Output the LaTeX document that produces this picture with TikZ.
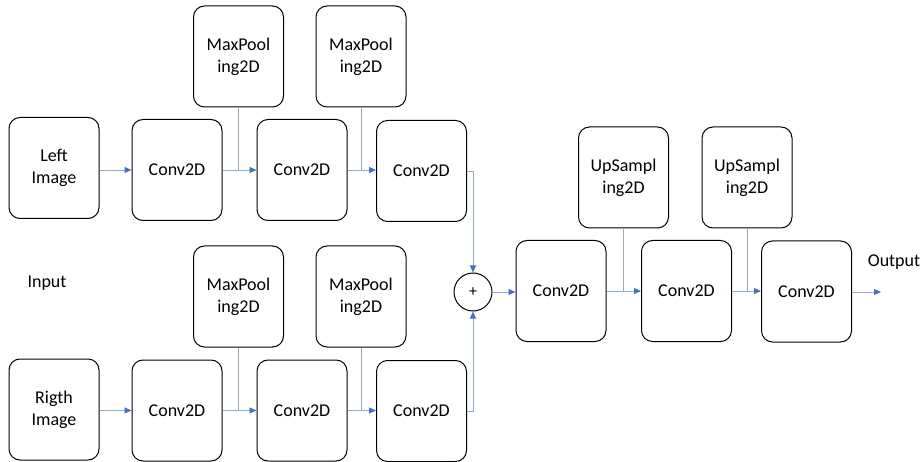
\documentclass[tikz,border=0pt]{standalone}
\usepackage{fontspec}
\setmainfont{Carlito}
\usetikzlibrary{arrows.meta}
\definecolor{linkblue}{RGB}{143,170,220}
\definecolor{tipblue}{RGB}{68,114,196}
\definecolor{dropgray}{RGB}{165,165,165}
\begin{document}
\begin{tikzpicture}[x=1pt,y=-1pt,
  layer/.style={draw=black,line width=1pt,rounded corners=11pt,
    minimum width=90pt,minimum height=101pt,inner sep=0pt,
    align=center,font=\fontsize{18}{22}\selectfont},
  sumnode/.style={draw=black,line width=1pt,circle,minimum size=38pt,inner sep=0pt,
    font=\fontsize{16}{18}\selectfont},
  label/.style={font=\fontsize{18}{22}\selectfont,inner sep=0pt},
  conn/.style={draw=linkblue,line width=0.9pt,
    -{Triangle[length=7pt,width=6pt,color=tipblue]}},
  drop/.style={draw=dropgray,line width=0.9pt}]
\useasboundingbox (0,0) rectangle (923,462);

% left branch
\node[layer] (limg) at (54,168) {Left\\Image};
\node[layer] (c1t) at (177,170) {Conv2D};
\node[layer] (c2t) at (302,170) {Conv2D};
\node[layer] (c3t) at (421.5,171) {Conv2D};
\node[layer] (mp1t) at (238.5,56.5) {MaxPool\\ing2D};
\node[layer] (mp2t) at (361,56.5) {MaxPool\\ing2D};

% right branch
\node[layer] (rimg) at (54,409.5) {Rigth\\Image};
\node[layer] (c1b) at (177,410.5) {Conv2D};
\node[layer] (c2b) at (302,410.5) {Conv2D};
\node[layer] (c3b) at (421.5,411) {Conv2D};
\node[layer] (mp1b) at (238.5,296.5) {MaxPool\\ing2D};
\node[layer] (mp2b) at (361,296.5) {MaxPool\\ing2D};

% merge and decoder
\node[sumnode] (sum) at (473,292) {+};
\node[layer] (ca) at (561,291) {Conv2D};
\node[layer] (cb) at (686.5,291) {Conv2D};
\node[layer] (cc) at (806.5,291.5) {Conv2D};
\node[layer] (up1) at (623.5,177.5) {UpSampl\\ing2D};
\node[layer] (up2) at (747,177.5) {UpSampl\\ing2D};

\node[label] (inlbl) at (47,283) {Input};
\node[label] (outlbl) at (894,262) {Output};
\coordinate (out) at (881,292);

% pooling side paths
\draw[drop] (mp1t.south) -- (mp1t.south |- c1t.east);
\draw[drop] (mp2t.south) -- (mp2t.south |- c2t.east);
\draw[drop] (mp1b.south) -- (mp1b.south |- c1b.east);
\draw[drop] (mp2b.south) -- (mp2b.south |- c2b.east);
\draw[drop] (up1.south) -- (up1.south |- ca.east);
\draw[drop] (up2.south) -- (up2.south |- cb.east);

% data flow
\draw[conn] (limg.east |- c1t.west) -- (c1t.west);
\draw[conn] (c1t.east) -- (c2t.west);
\draw[conn] (c2t.east) -- (c2t.east -| c3t.west);
\draw[conn] (rimg.east |- c1b.west) -- (c1b.west);
\draw[conn] (c1b.east) -- (c2b.west);
\draw[conn] (c2b.east) -- (c2b.east -| c3b.west);
\draw[conn] (c3t.east) -| (sum.north);
\draw[conn] (c3b.east) -| (sum.south);
\draw[conn] (sum.east) -- (sum.east -| ca.west);
\draw[conn] (ca.east) -- (cb.west);
\draw[conn] (cb.east) -- (cb.east -| cc.west);
\draw[conn] (cc.east |- sum.east) -- (out);
\end{tikzpicture}
\end{document}
